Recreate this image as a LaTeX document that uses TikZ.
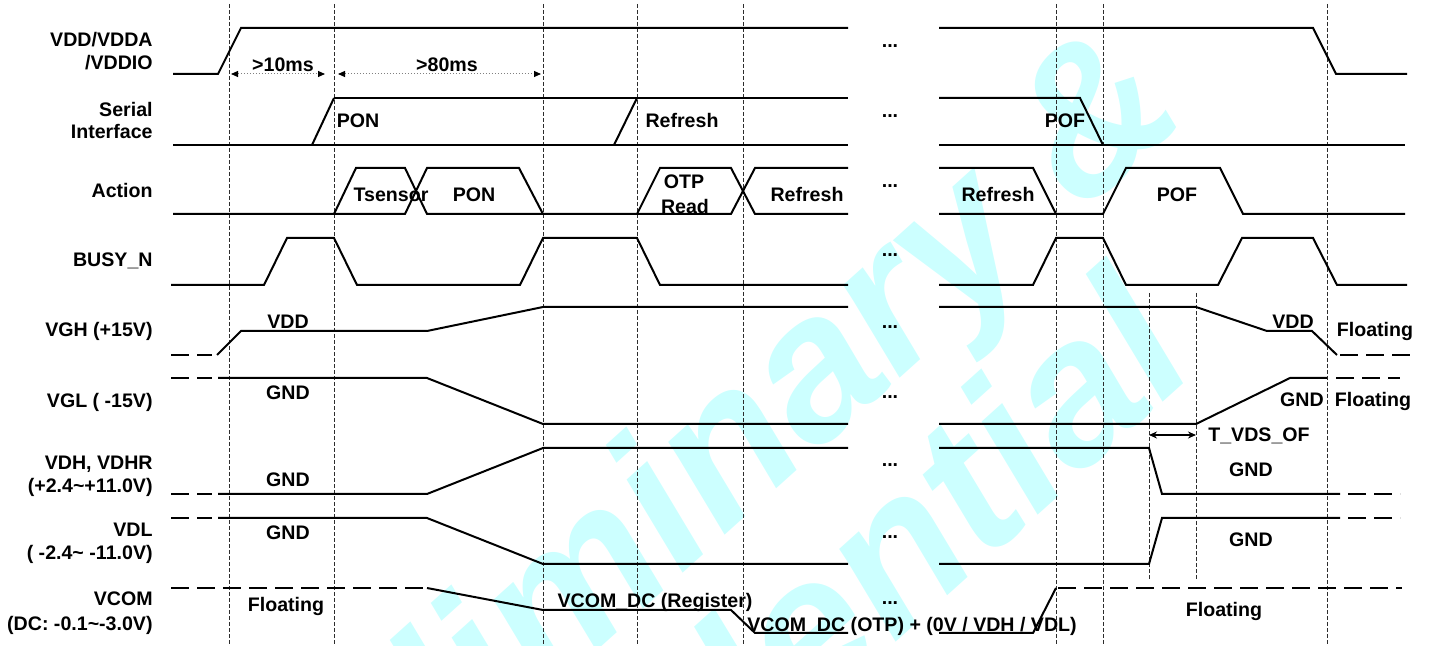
\documentclass[tikz,border=0pt]{standalone}
\usepackage{fontspec}
\setmainfont{Liberation Sans}
\usetikzlibrary{arrows.meta}
\tikzstyle{timing} = [x = 0.5pt, y = -0.5pt]
\definecolor{markColor}{RGB}{45,45,45}
\definecolor{stampColor}{RGB}{204,255,255}
\tikzstyle{signalLine} = [color=black, line width=1pt]
\tikzstyle{floatLine} = [signalLine, dash pattern=on 9pt off 4pt]
\tikzstyle{markLine} = [color=markColor, line width=0.45pt, dash pattern=on 2pt off 1pt]
\tikzstyle{spanLine} = [color=gray, line width=0.5pt, densely dotted, {Triangle[length=3.5pt, width=3pt, color=black]}-{Triangle[length=3.5pt, width=3pt, color=black]}]
\tikzstyle{gapArrow} = [color=black, line width=0.6pt, {Stealth[length=4pt, width=3.5pt]}-{Stealth[length=4pt, width=3.5pt]}]
\tikzstyle{nameText} = [anchor=east, inner sep=0pt, font=\fontsize{9.8}{12}\selectfont\bfseries, text height=7pt, text depth=0pt]
\tikzstyle{waveText} = [inner sep=0pt, font=\fontsize{9.8}{12}\selectfont\bfseries, text height=7pt, text depth=0pt]
\tikzstyle{dotsText} = [inner sep=0pt, font=\fontsize{9.8}{12}\selectfont\bfseries]
\tikzstyle{stampText} = [color=stampColor, inner sep=0pt, rotate=42, font=\fontsize{101}{101}\selectfont\bfseries\itshape]
\newcommand{\signalName}[3]{\node [nameText] (#1) at (153, #2) {#3};}
\newcommand{\gapDots}[2]{\node [dotsText] (#1) at (890, #2) {...};}
\newcommand{\timeMark}[3]{\draw [markLine] (#1, #2) -- (#1, #3);}
\begin{document}
\begin{tikzpicture}[timing]
  \useasboundingbox (0,0) rectangle (1432,646);
  % watermark
  \begin{scope}
    \clip (0,0) rectangle (1432,646);
    \node [stampText] (stampA) at (671,514) {Preliminary \&};
    \node [stampText] (stampB) at (720,704) {Confidential};
  \end{scope}

  % time marks
  \foreach \x in {229, 334, 543, 637, 743, 1056, 1103, 1327} {
    \timeMark{\x}{4}{646}
  }
  \timeMark{1149}{293}{580}
  \timeMark{1196}{293}{580}

  % signal names
  \signalName{nVddA}{40}{VDD/VDDA}
  \signalName{nVddB}{63}{/VDDIO}
  \signalName{nSerA}{110}{Serial}
  \signalName{nSerB}{132}{Interface}
  \signalName{nAct}{191}{Action}
  \signalName{nBusy}{260}{BUSY\_N}
  \signalName{nVgh}{330}{VGH (+15V)}
  \signalName{nVgl}{401}{VGL ( -15V)}
  \signalName{nVdhA}{463}{VDH, VDHR}
  \signalName{nVdhB}{486}{(+2.4\textasciitilde+11.0V)}
  \signalName{nVdlA}{530}{VDL}
  \signalName{nVdlB}{553}{( -2.4\textasciitilde\ -11.0V)}
  \signalName{nVcomA}{599}{VCOM}
  \signalName{nVcomB}{624}{(DC: -0.1\textasciitilde-3.0V)}

  % VDD/VDDA/VDDIO
  \draw [signalLine] (173,74) -- (218,74) -- (241,28) -- (848,28);
  \draw [signalLine] (939,28) -- (1313,28) -- (1336,74) -- (1407,74);
  \coordinate (tenA) at (231,74);
  \coordinate (tenB) at (325,74);
  \coordinate (eightyA) at (338,74);
  \coordinate (eightyB) at (541,74);
  \draw [spanLine] (tenA) -- (tenB);
  \draw [spanLine] (eightyA) -- (eightyB);
  \node [waveText] (tenText) at (283,65) {>10ms};
  \node [waveText] (eightyText) at (447,65) {>80ms};

  % Serial Interface
  \draw [signalLine] (173,145) -- (848,145);
  \draw [signalLine] (334,98) -- (848,98);
  \draw [signalLine] (312,145) -- (334,98);
  \draw [signalLine] (614,145) -- (637,98);
  \draw [signalLine] (939,98) -- (1080,98) -- (1103,145);
  \draw [signalLine] (939,145) -- (1405,145);
  \node [waveText] (serPon) at (358,121) {PON};
  \node [waveText] (serRefresh) at (682,121) {Refresh};
  \node [waveText] (serPof) at (1065,121) {POF};

  % Action
  \draw [signalLine] (173,214) -- (405,214) -- (427,168) -- (519,168) -- (543,214) -- (637,214) -- (660,168) -- (731,168) -- (755,214) -- (848,214);
  \draw [signalLine] (334,214) -- (356,168) -- (405,168) -- (427,214) -- (543,214);
  \draw [signalLine] (637,214) -- (731,214) -- (755,168) -- (848,168);
  \draw [signalLine] (939,168) -- (1033,168) -- (1056,214);
  \draw [signalLine] (939,214) -- (1103,214) -- (1126,168) -- (1220,168) -- (1243,214) -- (1405,214);
  \node [waveText] (actTsensor) at (391,195) {Tsensor};
  \node [waveText] (actPon) at (474,195) {PON};
  \node [waveText] (actOtp) at (684,182) {OTP};
  \node [waveText] (actRead) at (685,207) {Read};
  \node [waveText] (actRefresh) at (807,195) {Refresh};
  \node [waveText] (actRefreshB) at (998,195) {Refresh};
  \node [waveText] (actPof) at (1177,195) {POF};

  % BUSY_N
  \draw [signalLine] (171,285) -- (264,285) -- (287,238) -- (334,238) -- (357,285) -- (520,285) -- (543,238) -- (637,238) -- (660,285) -- (848,285);
  \draw [signalLine] (939,285) -- (1033,285) -- (1056,238) -- (1103,238) -- (1126,285) -- (1218,285) -- (1242,238) -- (1313,238) -- (1337,285) -- (1407,285);

  % VGH
  \draw [floatLine] (171,355) -- (212,355);
  \draw [signalLine] (217,355) -- (241,331) -- (427,331) -- (543,307) -- (848,307);
  \draw [signalLine] (939,307) -- (1196,307) -- (1267,331) -- (1312,331) -- (1337,355);
  \draw [floatLine] (1340,355) -- (1410,355);
  \node [waveText] (vghVdd) at (288,322) {VDD};
  \node [waveText] (vghVddB) at (1293,322) {VDD};
  \node [waveText] (vghFloat) at (1375,330) {Floating};

  % VGL
  \draw [floatLine] (171,378) -- (212,378);
  \draw [signalLine] (218,378) -- (427,378) -- (543,424) -- (848,424);
  \draw [signalLine] (939,424) -- (1196,424) -- (1290,378) -- (1327,378);
  \draw [floatLine] (1336,378) -- (1400,378);
  \node [waveText] (vglGnd) at (288,393) {GND};
  \node [waveText] (vglGndB) at (1302,400) {GND};
  \node [waveText] (vglFloat) at (1373,400) {Floating};
  \coordinate (vdsA) at (1149,435);
  \coordinate (vdsB) at (1196,435);
  \draw [gapArrow] (vdsA) -- (vdsB);
  \node [waveText] (vdsText) at (1259,435) {T\_VDS\_OF};

  % VDH, VDHR
  \draw [floatLine] (171,494) -- (212,494);
  \draw [signalLine] (218,494) -- (427,494) -- (543,448) -- (848,448);
  \draw [signalLine] (939,448) -- (1149,448) -- (1162,494) -- (1340,494);
  \draw [floatLine] (1348,494) -- (1400,494);
  \node [waveText] (vdhGnd) at (288,480) {GND};
  \node [waveText] (vdhGndB) at (1251,470) {GND};

  % VDL
  \draw [floatLine] (171,518) -- (212,518);
  \draw [signalLine] (218,518) -- (427,518) -- (543,564) -- (848,564);
  \draw [signalLine] (939,564) -- (1149,564) -- (1162,518) -- (1340,518);
  \draw [floatLine] (1348,518) -- (1400,518);
  \node [waveText] (vdlGnd) at (288,533) {GND};
  \node [waveText] (vdlGndB) at (1251,540) {GND};

  % VCOM
  \draw [floatLine] (171,588) -- (427,588);
  \draw [signalLine] (427,588) -- (543,610) -- (731,610) -- (755,633) -- (848,633);
  \draw [signalLine] (939,633) -- (1033,633) -- (1056,588);
  \draw [floatLine] (1058,588) -- (1402,588);
  \node [waveText] (vcomFloat) at (286,605) {Floating};
  \node [waveText] (vcomReg) at (655,601) {VCOM\_DC (Register)};
  \node [waveText] (vcomOtp) at (912,625) {VCOM\_DC (OTP) + (0V / VDH / VDL)};
  \node [waveText] (vcomFloatB) at (1224,610) {Floating};

  % gaps
  \gapDots{dVdd}{46}
  \gapDots{dSer}{116}
  \gapDots{dAct}{186}
  \gapDots{dBusy}{255}
  \gapDots{dVgh}{327}
  \gapDots{dVgl}{397}
  \gapDots{dVdh}{465}
  \gapDots{dVdl}{537}
  \gapDots{dVcom}{603}
\end{tikzpicture}
\end{document}
